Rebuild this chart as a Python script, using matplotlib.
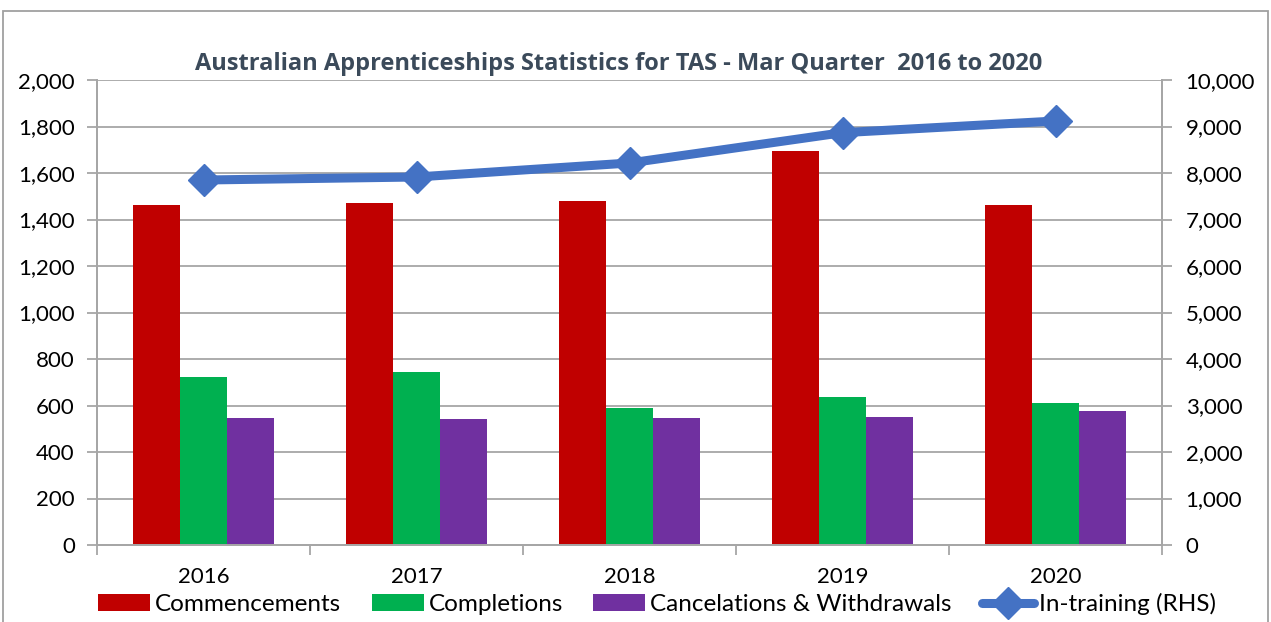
import matplotlib.pyplot as plt
import numpy as np
from matplotlib.patches import Rectangle
from matplotlib.ticker import FuncFormatter, MultipleLocator

plt.rcParams['font.family'] = ['Lato', 'DejaVu Sans']

years = ['2016', '2017', '2018', '2019', '2020']
commencements = [1461, 1470, 1480, 1696, 1461]
completions = [721, 745, 589, 635, 611]
cancelations = [545, 541, 546, 551, 575]
in_training = [7849, 7914, 8215, 8867, 9118]

red = '#c00000'
green = '#00b050'
purple = '#7030a0'
blue = '#4472c4'
grid_col = '#a6a6a6'

fig = plt.figure(figsize=(12.71, 6.22), dpi=100)
ax = fig.add_axes([97 / 1271, 1 - 545 / 622, 1065 / 1271, 465 / 622])
ax2 = ax.twinx()

x = np.arange(len(years))
w = 0.222
ax.bar(x - w, commencements, w, color=red, label='Commencements', zorder=2)
ax.bar(x, completions, w, color=green, label='Completions', zorder=2)
ax.bar(x + w, cancelations, w, color=purple, label='Cancelations & Withdrawals', zorder=2)

ax2.plot(x, in_training, color=blue, lw=6.5, marker='D', markersize=16,
         label='In-training (RHS)', solid_capstyle='round')

ax.set_xlim(-0.5, len(years) - 0.5)
ax.set_ylim(0, 2000)
ax2.set_ylim(0, 10000)
ax.yaxis.set_major_locator(MultipleLocator(200))
ax2.yaxis.set_major_locator(MultipleLocator(1000))
fmt = FuncFormatter(lambda v, p: f'{int(v):,}')
ax.yaxis.set_major_formatter(fmt)
ax2.yaxis.set_major_formatter(fmt)

ax.set_xticks(np.arange(-0.5, len(years)), labels=[])
ax.set_xticks(x, labels=years, minor=True)
ax.tick_params(axis='x', which='major', length=7, color=grid_col, width=1.3)
ax.tick_params(axis='x', which='minor', length=0, pad=16, labelsize=16)
ax.tick_params(axis='y', length=7, color=grid_col, width=1.3, labelsize=16, pad=9)
ax2.tick_params(axis='y', length=7, color=grid_col, width=1.3, labelsize=16, pad=10)

ax.grid(axis='y', color=grid_col, lw=1.3, zorder=0)
ax.set_axisbelow(True)
for a in (ax, ax2):
    a.spines['top'].set_visible(False)
    for s in ('left', 'right', 'bottom'):
        a.spines[s].set_color(grid_col)
        a.spines[s].set_linewidth(1.3)

ax.set_title('Australian Apprenticeships Statistics for TAS - Mar Quarter  2016 to 2020',
             fontsize=17, fontweight='bold', color='#3b4a5a', pad=7,
             family=['Open Sans', 'DejaVu Sans'], x=0.49)

h1, l1 = ax.get_legend_handles_labels()
h2, l2 = ax2.get_legend_handles_labels()
fig.legend(h1 + h2, l1 + l2, loc='center', bbox_to_anchor=(0.517, 1 - 604 / 622),
           ncol=4, frameon=False, fontsize=17.5, handlelength=2.14, handleheight=0.7,
           handletextpad=0.2, columnspacing=1.25, borderpad=0)

fig.patches.append(Rectangle((3 / 1271, -0.1), 1265 / 1271, 1.1 - 11 / 622,
                             transform=fig.transFigure, fill=False,
                             edgecolor='#a0a0a0', lw=1.3))

fig.savefig('out.png', dpi=100)
